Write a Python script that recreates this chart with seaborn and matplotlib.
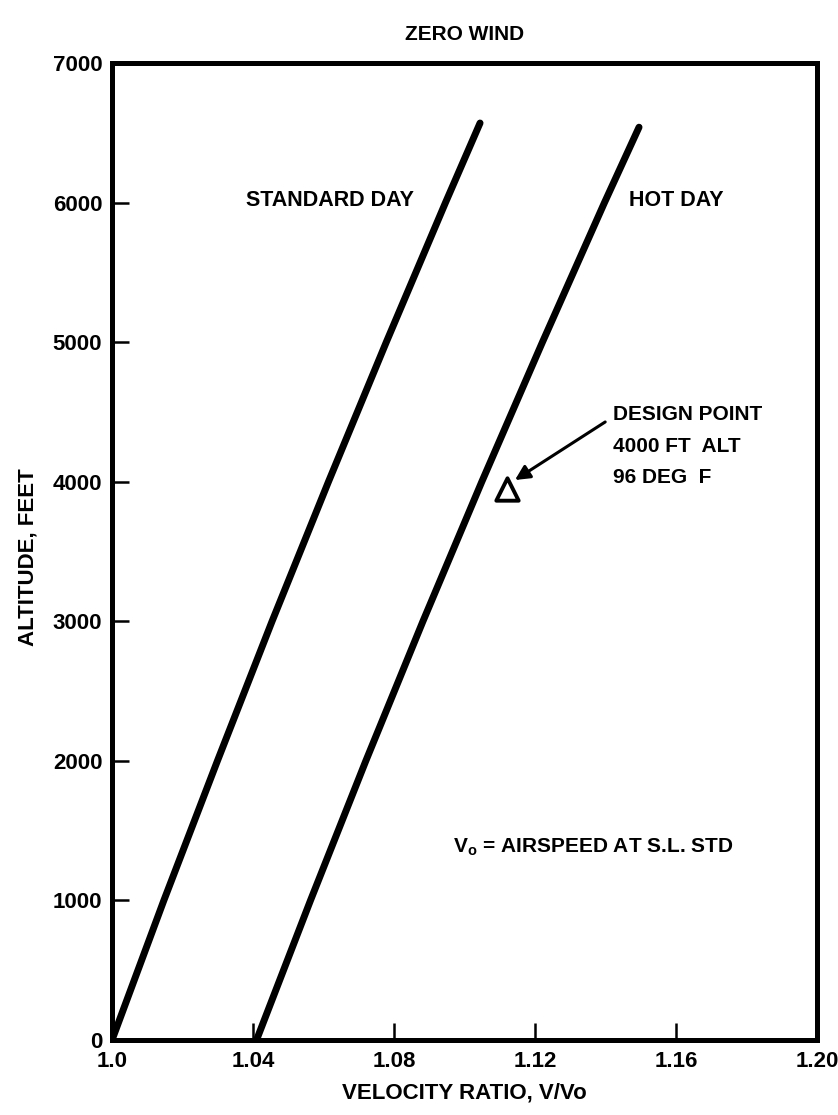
import matplotlib
matplotlib.use("Agg")
import matplotlib.pyplot as plt
import seaborn as sns
import pandas as pd

# ---- data ----
std_alt = [0, 1000, 2000, 3000, 4000, 5000, 6000, 6570]
std_vel = [1.000, 1.0147, 1.0299, 1.0454, 1.0614, 1.0778, 1.0946, 1.1044]
hot_alt = [0, 1000, 2000, 3000, 4000, 5000, 6000, 6540]
hot_vel = [1.041, 1.0563, 1.0720, 1.0882, 1.1049, 1.1221, 1.1397, 1.1495]
design_vel = [1.112]
design_alt = [3950]
x_ticks = [1.0, 1.04, 1.08, 1.12, 1.16, 1.20]
x_ticklabels = ["1.0", "1.04", "1.08", "1.12", "1.16", "1.20"]
y_ticks = [0, 1000, 2000, 3000, 4000, 5000, 6000, 7000]

sns.set_style("ticks")
plt.rcParams["font.family"] = ["Liberation Sans", "DejaVu Sans"]
plt.rcParams["font.weight"] = "bold"
plt.rcParams["text.color"] = "black"
plt.rcParams["axes.labelcolor"] = "black"
plt.rcParams["xtick.color"] = "black"
plt.rcParams["ytick.color"] = "black"
plt.rcParams["mathtext.fontset"] = "custom"
plt.rcParams["mathtext.rm"] = "Liberation Sans:bold"
plt.rcParams["mathtext.bf"] = "Liberation Sans:bold"

df = pd.concat([
    pd.DataFrame({"vel": std_vel, "alt": std_alt, "case": "STANDARD DAY"}),
    pd.DataFrame({"vel": hot_vel, "alt": hot_alt, "case": "HOT DAY"}),
])

fig = plt.figure(figsize=(8.38, 11.15), dpi=100)
ax = fig.add_axes([0.1337, 0.0673, 0.8413, 0.8762])

sns.lineplot(data=df, x="vel", y="alt", units="case", estimator=None,
             sort=False, color="black", linewidth=5.0, ax=ax, legend=False,
             solid_capstyle="round")

sns.scatterplot(x=design_vel, y=design_alt, marker="^", s=260,
                facecolor="white", edgecolor="black", linewidth=2.8, ax=ax,
                zorder=5)

ax.set_xlim(1.0, 1.20)
ax.set_ylim(0, 7000)
ax.set_xticks(x_ticks)
ax.set_xticklabels(x_ticklabels)
ax.set_yticks(y_ticks)
ax.set_xlabel("")
ax.set_ylabel("")

for s in ax.spines.values():
    s.set_linewidth(3.6)
    s.set_color("black")
    s.set_visible(True)

ax.tick_params(axis="both", direction="in", length=12, width=1.8,
               labelsize=16, colors="black", labelcolor="black")
ax.tick_params(axis="x", pad=8)
ax.tick_params(axis="y", pad=7)
for lab in ax.get_xticklabels() + ax.get_yticklabels():
    lab.set_fontweight("bold")

# annotations
ax.text(1.0618, 6018, "STANDARD DAY", ha="center", va="center",
        fontsize=15.5, fontweight="bold", color="black")
ax.text(1.160, 6018, "HOT DAY", ha="center", va="center",
        fontsize=15.5, fontweight="bold", color="black")
for txt, yy in [("DESIGN POINT", 4478), ("4000 FT  ALT", 4249), ("96 DEG  F", 4027)]:
    ax.text(1.1421, yy, txt, ha="left", va="center", fontsize=15,
            fontweight="bold", color="black")
ax.annotate("", xy=(1.1143, 4012), xytext=(1.1399, 4428),
            arrowprops=dict(arrowstyle="-|>", color="black", lw=2.2,
                            mutation_scale=22, shrinkA=0, shrinkB=0))
ax.text(1.0967, 1383, r"V$_{\mathbf{o}}$ = AIRSPEED AT S.L. STD",
        ha="left", va="center", fontsize=15, fontweight="bold", color="black")

fig.text(0.554, 1 - 35 / 1115, "ZERO WIND", ha="center", va="center",
         fontsize=15, fontweight="bold", color="black")
fig.text(0.554, 1 - 1093 / 1115, "VELOCITY RATIO, V/Vo", ha="center",
         va="center", fontsize=16, fontweight="bold", color="black")
fig.text(0.0334, 1 - 557 / 1115, "ALTITUDE, FEET", ha="center",
         va="center", rotation=90, fontsize=16, fontweight="bold",
         color="black")

fig.savefig("out.png", dpi=100, facecolor="white")
